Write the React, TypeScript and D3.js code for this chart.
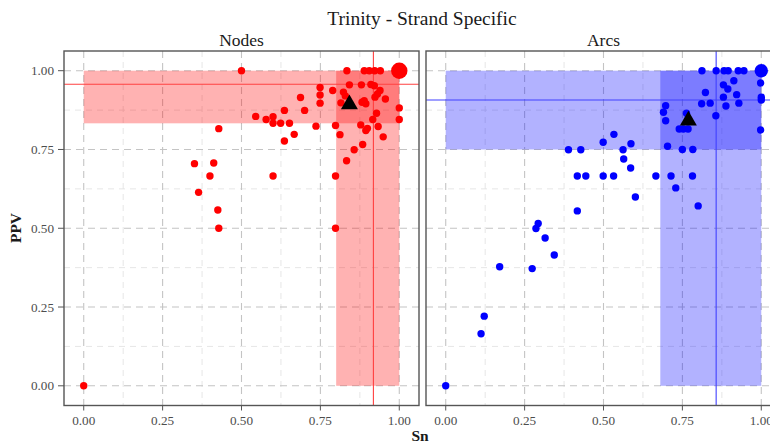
import * as d3 from "d3";

// Sn / PPV per gene
const nodesSn = [
  0, 0.5, 0.834, 0.889, 0.905, 0.922, 0.94, 1.0, 0.842, 0.88, 0.91, 0.921, 0.749, 0.789, 0.823,
  0.749, 0.829, 0.749, 0.815, 0.939, 0.931, 0.923, 0.956, 0.882, 0.894, 0.889, 1.0, 1.0, 0.928,
  0.916, 0.878, 0.899, 0.894, 0.933, 0.949, 0.884, 0.857, 0.833, 0.7, 0.687, 0.736, 0.798, 0.812,
  0.636, 0.652, 0.624, 0.6, 0.6, 0.578, 0.545, 0.667, 0.636, 0.428, 0.351, 0.412, 0.4, 0.6, 0.798,
  0.364, 0.425, 0.428, 0.798,
];
const nodesPpv = [
  0, 1.0, 1.0, 1.0, 1.0, 1.0, 1.0, 1.0, 0.955, 0.955, 0.956, 0.952, 0.947, 0.937, 0.932,
  0.923, 0.92, 0.897, 0.898, 0.937, 0.926, 0.916, 0.91, 0.9, 0.895, 0.905, 0.882, 0.845, 0.865,
  0.845, 0.828, 0.817, 0.81, 0.823, 0.79, 0.766, 0.749, 0.714, 0.874, 0.915, 0.824, 0.826, 0.797,
  0.874, 0.833, 0.833, 0.833, 0.854, 0.845, 0.855, 0.798, 0.777, 0.816, 0.705, 0.707, 0.666, 0.666, 0.666,
  0.614, 0.558, 0.5, 0.5,
];
// number of genes stacked on the same spot (drives the dot size)
const nodesCount = nodesSn.map((s, i) => (s === 1 && nodesPpv[i] === 1 ? 12 : 1));

const arcsSn = [
  0, 0.112, 0.122, 0.171, 0.274, 0.344, 0.315, 0.286, 0.293, 0.417, 0.8, 0.601, 0.729, 0.417,
  0.444, 0.499, 0.532, 0.666, 0.714, 0.782, 0.586, 0.564, 0.389, 0.428, 0.562, 0.587, 0.499, 0.533,
  0.703, 0.75, 0.783, 0.74, 0.753, 0.768, 0.697, 0.69, 0.697, 0.763, 0.856, 0.811, 0.838, 0.888,
  0.929, 0.88, 0.922, 0.823, 0.894, 0.88, 0.913, 0.812, 0.857, 0.882, 0.895, 0.927, 0.945, 1.0,
  0.998, 1.0, 1.0, 0.998,
];
const arcsPpv = [
  0, 0.165, 0.221, 0.378, 0.372, 0.415, 0.469, 0.499, 0.515, 0.555, 0.571, 0.599, 0.628, 0.666,
  0.666, 0.666, 0.666, 0.666, 0.666, 0.666, 0.691, 0.72, 0.749, 0.749, 0.749, 0.768, 0.773, 0.798,
  0.76, 0.75, 0.75, 0.815, 0.815, 0.815, 0.841, 0.868, 0.889, 0.865, 0.857, 0.895, 0.897, 0.888,
  0.897, 0.916, 0.924, 0.931, 0.942, 0.955, 0.968, 1.0, 1.0, 1.0, 1.0, 1.0, 1.0, 1.0,
  0.961, 0.916, 0.907, 0.812,
];
const arcsCount = arcsSn.map((s, i) => (s === 1 && arcsPpv[i] === 1 ? 7 : 1));

// summary per panel: median lines, mean triangle, quartile bands
const panels = ["Nodes", "Arcs"];
const panelColors = ["#ff0000", "#0000ff"];
const lineColors = ["#ff4040", "#4040ff"];
const medianLines = [
  [0.918, 0.957],
  [0.857, 0.907],
];
const meanPoints = [
  [0.842, 0.893],
  [0.769, 0.842],
];
const snBandLow = [0.8, 0.68];
const ppvBandLow = [0.833, 0.75];

const axisTicks = [0, 0.25, 0.5, 0.75, 1];
const minorTicks = [0.125, 0.375, 0.625, 0.875];

const W = 770;
const H = 442;
const panelTop = 51;
const panelBottom = 405.5;
const panelLefts = [64, 426];
const panelWidth = 355;
const font = "'Liberation Serif', 'DejaVu Serif', serif";

export default function App() {
  const y = d3.scaleLinear().domain([-0.0625, 1.0625]).range([panelBottom, panelTop]);
  const fmt = d3.format(".2f");
  const r = d3.scaleSqrt().domain([1, 12]).range([3.7, 8.2]);
  const tri = d3.symbol(d3.symbolTriangle, 125)() ?? "";

  const series = [
    { sn: nodesSn, ppv: nodesPpv, count: nodesCount },
    { sn: arcsSn, ppv: arcsPpv, count: arcsCount },
  ];

  return (
    <svg
      width={W}
      height={H}
      style={{ position: "absolute", left: 0, top: 0, background: "#fff" }}
      fontFamily={font}
    >
      <text x={422} y={25} textAnchor="middle" fontSize={19.5} fill="#1a1a1a">
        Trinity - Strand Specific
      </text>

      {panels.map((name, p) => {
        const left = panelLefts[p];
        const x = d3.scaleLinear().domain([-0.0625, 1.0625]).range([left, left + panelWidth]);
        const color = panelColors[p];
        const s = series[p];
        const [medSn, medPpv] = medianLines[p];
        const [meanSn, meanPpv] = meanPoints[p];
        const clipId = `clip-${name}`;

        return (
          <g key={name}>
            <defs>
              <clipPath id={clipId}>
                <rect x={left} y={panelTop} width={panelWidth} height={panelBottom - panelTop} />
              </clipPath>
            </defs>
            <text x={x(0.5)} y={45.5} textAnchor="middle" fontSize={17.5} fill="#1a1a1a">
              {name}
            </text>

            <g clipPath={`url(#${clipId})`}>
              {minorTicks.map((t) => (
                <g key={`minor-${t}`} stroke="#e3e3e3" strokeDasharray="6 5" strokeWidth={0.9}>
                  <line x1={x(t)} x2={x(t)} y1={panelTop} y2={panelBottom} />
                  <line x1={left} x2={left + panelWidth} y1={y(t)} y2={y(t)} />
                </g>
              ))}
              {axisTicks.map((t) => (
                <g key={`major-${t}`} stroke="#c4c4c4" strokeDasharray="7 5" strokeWidth={1.1}>
                  <line x1={x(t)} x2={x(t)} y1={panelTop} y2={panelBottom} />
                  <line x1={left} x2={left + panelWidth} y1={y(t)} y2={y(t)} />
                </g>
              ))}

              <rect
                x={x(0)}
                y={y(1)}
                width={x(1) - x(0)}
                height={y(ppvBandLow[p]) - y(1)}
                fill={color}
                fillOpacity={0.3}
              />
              <rect
                x={x(snBandLow[p])}
                y={y(1)}
                width={x(1) - x(snBandLow[p])}
                height={y(0) - y(1)}
                fill={color}
                fillOpacity={0.3}
              />

              <line x1={x(medSn)} x2={x(medSn)} y1={panelTop} y2={panelBottom} stroke={lineColors[p]} strokeWidth={1.1} />
              <line x1={left} x2={left + panelWidth} y1={y(medPpv)} y2={y(medPpv)} stroke={lineColors[p]} strokeWidth={1.1} />

              {s.sn.map((v, i) => (
                <circle key={i} cx={x(v)} cy={y(s.ppv[i])} r={r(s.count[i])} fill={color} />
              ))}

              <path d={tri} transform={`translate(${x(meanSn)}, ${y(meanPpv)})`} fill="#000" />
            </g>

            <rect
              x={left}
              y={panelTop}
              width={panelWidth}
              height={panelBottom - panelTop}
              fill="none"
              stroke="#555555"
              strokeWidth={1.4}
            />

            {axisTicks.map((t) => (
              <g key={`xt-${t}`}>
                <line x1={x(t)} x2={x(t)} y1={panelBottom} y2={panelBottom + 5} stroke="#555555" />
                <text x={x(t)} y={425} textAnchor="middle" fontSize={13.2} fill="#4d4d4d">
                  {fmt(t)}
                </text>
              </g>
            ))}
          </g>
        );
      })}

      {axisTicks.map((t) => (
        <g key={`yt-${t}`}>
          <line x1={panelLefts[0] - 6} x2={panelLefts[0]} y1={y(t)} y2={y(t)} stroke="#555555" />
          <text x={panelLefts[0] - 10} y={y(t)} dy="0.35em" textAnchor="end" fontSize={13.2} fill="#4d4d4d">
            {fmt(t)}
          </text>
        </g>
      ))}

      <text
        x={21}
        y={228}
        transform="rotate(-90, 21, 228)"
        textAnchor="middle"
        fontSize={15.5}
        fontWeight="bold"
        fill="#1a1a1a"
      >
        PPV
      </text>
      <text x={420} y={441} textAnchor="middle" fontSize={15.5} fontWeight="bold" fill="#1a1a1a">
        Sn
      </text>
    </svg>
  );
}
